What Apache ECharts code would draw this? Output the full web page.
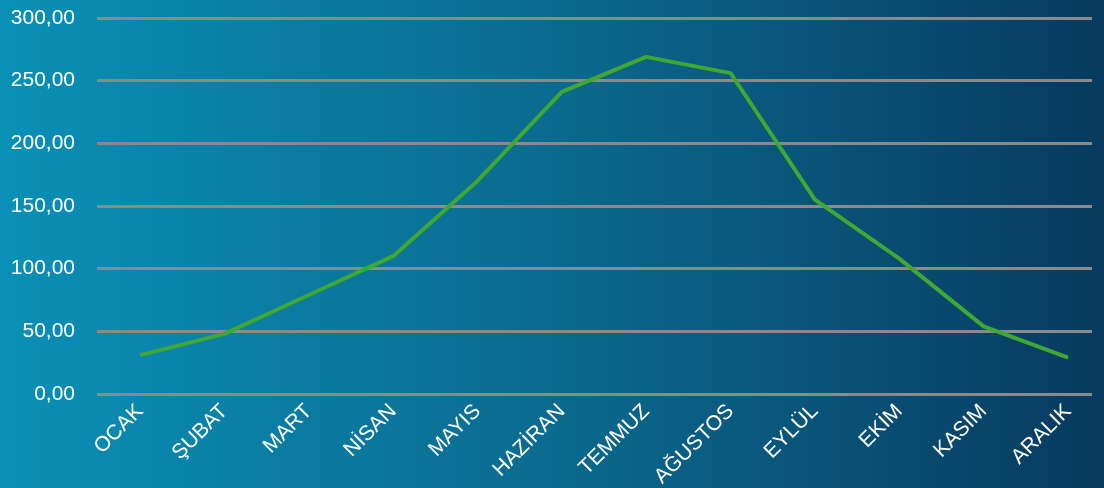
<!DOCTYPE html>
<html>
<head>
<meta charset="utf-8">
<script src="https://cdn.jsdelivr.net/npm/echarts@6/dist/echarts.min.js"></script>
<style>
  html, body { margin: 0; padding: 0; }
  #chart { width: 1104px; height: 488px; }
</style>
</head>
<body>
<div id="chart"></div>
<script>
const months = ['OCAK', 'ŞUBAT', 'MART', 'NİSAN', 'MAYIS', 'HAZİRAN', 'TEMMUZ', 'AĞUSTOS', 'EYLÜL', 'EKİM', 'KASIM', 'ARALIK'];
const values = [31, 48, 79, 110, 170, 241, 269, 256, 155, 108, 54, 29];
const yTicks = { min: 0, max: 300, interval: 50 };

const chart = echarts.init(document.getElementById('chart'));

const fontFamily = 'Liberation Sans, Arial, sans-serif';

chart.setOption({
    backgroundColor: {
        type: 'linear', x: 0, y: 0, x2: 1, y2: 0,
        colorStops: [
            { offset: 0, color: '#0a90b6' },
            { offset: 0.5, color: '#0b6a8f' },
            { offset: 1, color: '#083a5f' }
        ]
    },
    animation: false,
    grid: [
        { left: 97, right: 12, top: 18, bottom: 94, outerBoundsMode: 'none' },
        { left: 140, right: 36, top: 18, bottom: 94, outerBoundsMode: 'none' }
    ],
    xAxis: [
        { gridIndex: 0, type: 'category', data: months, show: false },
        {
            gridIndex: 1,
            type: 'category',
            data: months,
            boundaryGap: false,
            axisLine: { show: false },
            axisTick: { show: false },
            axisLabel: {
                interval: 0,
                rotate: 45,
                margin: 14,
                color: '#ffffff',
                fontSize: 21,
                fontFamily: fontFamily
            }
        }
    ],
    yAxis: [
        {
            gridIndex: 0,
            type: 'value',
            min: yTicks.min,
            max: yTicks.max,
            interval: yTicks.interval,
            axisLine: { show: false },
            axisTick: { show: false },
            splitLine: { lineStyle: { color: '#8a8a8a', width: 3 } },
            axisLabel: {
                margin: 22,
                color: '#ffffff',
                fontSize: 21,
                fontFamily: fontFamily,
                formatter: v => v.toFixed(2).replace('.', ',')
            }
        },
        {
            gridIndex: 1,
            type: 'value',
            min: yTicks.min,
            max: yTicks.max,
            interval: yTicks.interval,
            show: false
        }
    ],
    series: [{
        type: 'line',
        xAxisIndex: 1,
        yAxisIndex: 1,
        data: values,
        symbol: 'none',
        lineStyle: { color: '#3fa733', width: 4 }
    }]
});
</script>
</body>
</html>
